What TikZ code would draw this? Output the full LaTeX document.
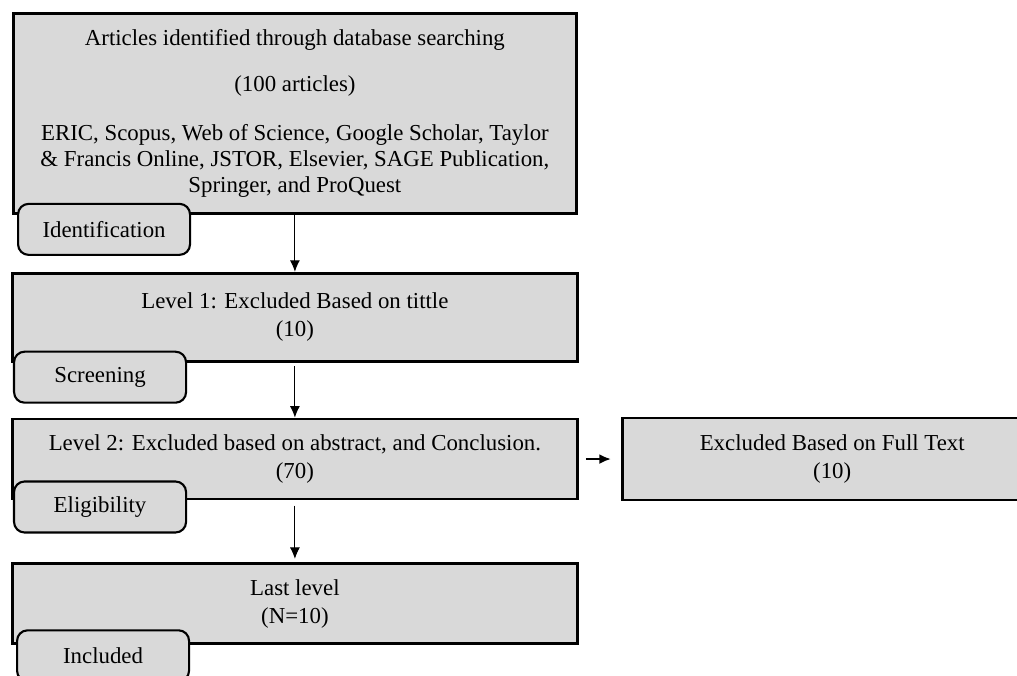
\documentclass[tikz,border=0pt]{standalone}
\usepackage{fontspec}
\setmainfont{Liberation Serif}
\usetikzlibrary{arrows.meta,positioning}
\definecolor{boxgray}{HTML}{D9D9D9}

\begin{document}
\begin{tikzpicture}[
  stage/.style={draw,line width=1.6pt,fill=boxgray,minimum width=11.3cm,align=center,font=\fontsize{13}{16}\selectfont,inner sep=0pt},
  tab/.style={draw,line width=1.2pt,fill=boxgray,rounded corners=6pt,minimum width=3.44cm,minimum height=1.02cm,font=\fontsize{13}{16}\selectfont,anchor=north west},
  flow/.style={-{Latex[length=2.3mm,width=2mm]},line width=0.6pt},
  node distance=1.14cm and 0.84cm
]
  \useasboundingbox (0,0) rectangle (20.34,-13.5);

  \node[stage,minimum width=11.26cm,minimum height=4cm,anchor=north west] (search) at (0.24,-0.24)
    {Articles identified through database searching\\[0.36cm]
     (100 articles)\\[0.42cm]
     ERIC, Scopus, Web of Science, Google Scholar, Taylor\\[-0.04cm]
     \& Francis Online, JSTOR, Elsevier, SAGE Publication,\\[-0.04cm]
     Springer, and ProQuest};
  \node[stage,minimum height=1.76cm,below=of search] (lvl1) {Level 1: Excluded Based on tittle\\(10)};
  \node[stage,minimum height=1.6cm,below=1.1cm of lvl1] (lvl2) {Level 2: Excluded based on abstract, and Conclusion.\\(70)};
  \node[stage,minimum height=1.6cm,below=1.24cm of lvl2] (last) {Last level\\(N=10)};
  \node[stage,minimum width=8.4cm,minimum height=1.64cm,right=of lvl2] (full) {Excluded Based on Full Text\\(10)};

  \node[tab] (ident) at ([xshift=0.1cm,yshift=0.24cm]search.south west) {Identification};
  \node[tab] (screen) at ([xshift=0.04cm,yshift=0.24cm]lvl1.south west) {Screening};
  \node[tab] (elig) at ([xshift=0.04cm,yshift=0.4cm]lvl2.south west) {Eligibility};
  \node[tab] (incl) at ([xshift=0.1cm,yshift=0.32cm]last.south west) {Included};

  \draw[flow] (search) -- (lvl1);
  \draw[flow,shorten <=2pt] (lvl1) -- (lvl2);
  \draw[flow,shorten <=3pt,shorten >=2pt] (lvl2) -- (last);
  \draw[flow,line width=1.1pt,shorten <=0.14cm,shorten >=0.2cm] (lvl2) -- (full);
\end{tikzpicture}
\end{document}
